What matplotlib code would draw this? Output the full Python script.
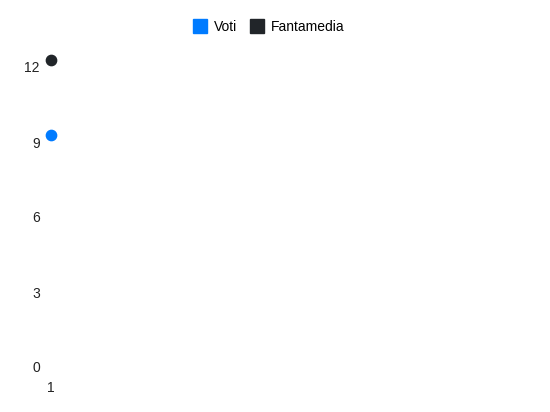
import matplotlib.pyplot as plt
from matplotlib.transforms import ScaledTranslation
from matplotlib.lines import Line2D

plt.rcParams['font.family'] = ['Liberation Sans', 'DejaVu Sans']

# dati
giornate = ['1']
voti = [9]
fantamedia = [12]
y_ticks = [0, 3, 6, 9, 12]

col_voti = '#007bff'
col_fm = '#212529'

fig = plt.figure(figsize=(5.5, 4.12), dpi=100)
# assi in pixel: sinistra 51, destra 540, alto 60, basso 360
ax = fig.add_axes([51 / 550, 52 / 412, 489 / 550, 300 / 412])

x = list(range(1, len(giornate) + 1))
ax.scatter(x, voti, s=55, color=col_voti, zorder=3, clip_on=False)
ax.scatter(x, fantamedia, s=55, color=col_fm, zorder=3, clip_on=False)

ax.set_xlim(1, 2)
ax.set_ylim(0, 12)
ax.set_xticks(x)
ax.set_xticklabels(giornate)
ax.set_yticks(y_ticks)
ax.set_yticklabels([str(v) for v in y_ticks])

for s in ax.spines.values():
    s.set_visible(False)
ax.tick_params(axis='both', length=0, labelsize=10, colors='#222222')
ax.tick_params(axis='y', pad=8)
ax.tick_params(axis='x', pad=15)

# etichette y leggermente sotto il valore
off = ScaledTranslation(0, -0.07, fig.dpi_scale_trans)
for lab in ax.get_yticklabels():
    lab.set_transform(lab.get_transform() + off)

handles = [
    Line2D([], [], marker='s', linestyle='none', markersize=10, color=col_voti, label='Voti'),
    Line2D([], [], marker='s', linestyle='none', markersize=10, color=col_fm, label='Fantamedia'),
]
fig.legend(handles=handles, loc='center', bbox_to_anchor=(269 / 550, 1 - 27 / 412),
           ncol=2, frameon=False, fontsize=10, handletextpad=0.5, columnspacing=0.9,
           handlelength=1.0)

fig.savefig('out.png', dpi=100)
